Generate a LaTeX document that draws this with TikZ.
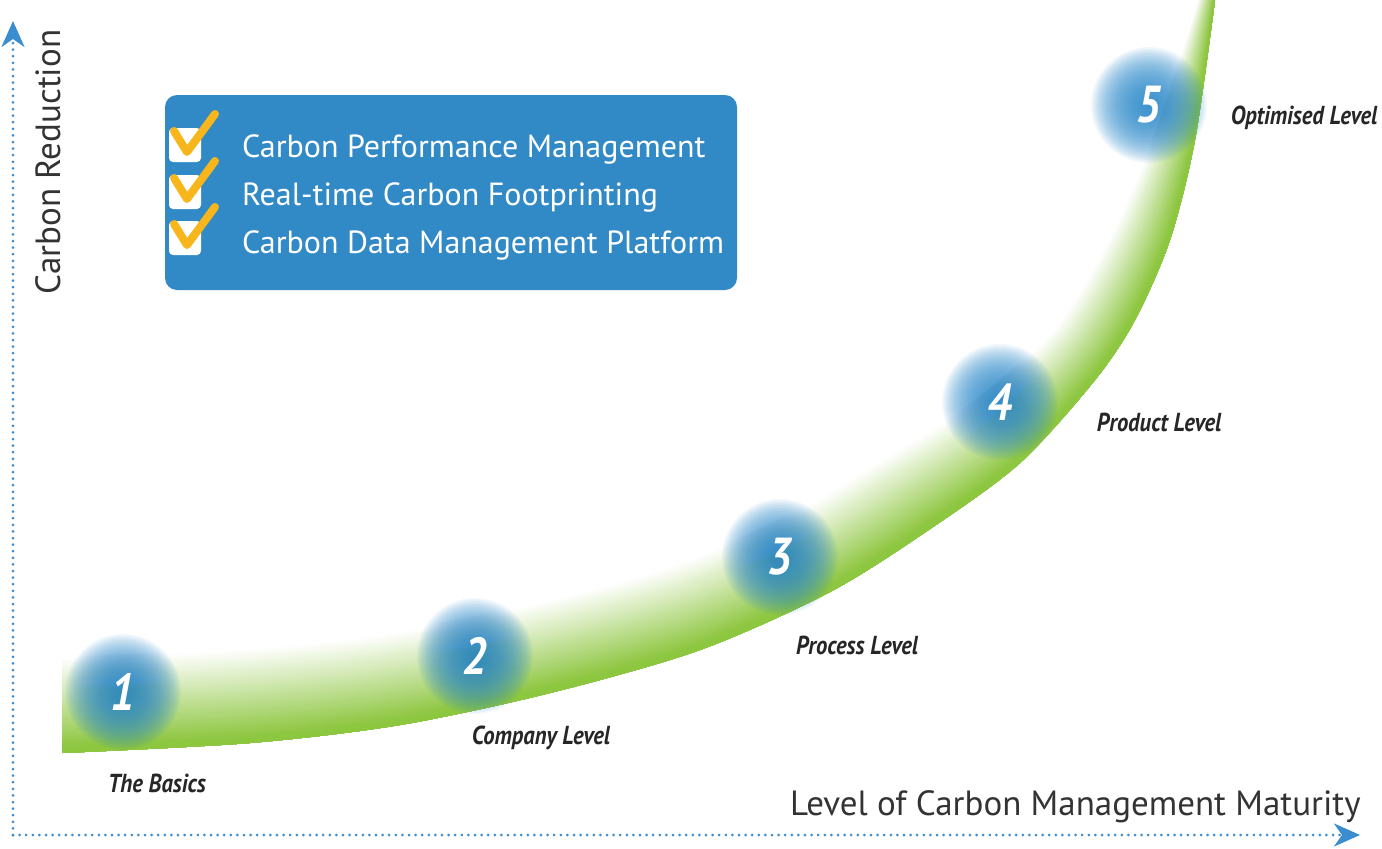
\documentclass[tikz,border=0pt]{standalone}
\usepackage{fontspec}
\setmainfont{PT Sans}
\newfontfamily\condfont[FakeStretch=0.87]{PT Sans}
\usetikzlibrary{arrows.meta,calc}
\definecolor{bandgreen}{HTML}{8DC63F}
\definecolor{ballblue}{HTML}{2A88C8}
\definecolor{panelblue}{HTML}{318AC6}
\definecolor{tickyellow}{HTML}{F7B61B}
\definecolor{axisblue}{HTML}{3A8ED0}
\definecolor{labelgray}{HTML}{333333}
\tikzset{
  axis/.style={axisblue, line width=3, line cap=round, dash pattern=on 0pt off 6.6pt, -{Stealth[length=26, width=23, inset=8]}},
  glow/.style={ballblue, fill opacity=0.06},
  ball/.style={circle, minimum size=114, text=white, font=\condfont\bfseries\itshape\fontsize{52}{52}\selectfont},
  lvl/.style={text=black!85, font=\condfont\bfseries\itshape\fontsize{26}{28}\selectfont},
  item/.style={anchor=base west, inner sep=0, text=white, font=\fontsize{32}{36}\selectfont},
  tickbox/.style={fill=white, rounded corners=4, minimum width=32, minimum height=34},
  tick/.style={tickyellow, line width=8, line cap=round, line join=round},
  axislabel/.style={text=labelgray, inner sep=0, font=\fontsize{35}{40}\selectfont}
}
\begin{document}
\begin{tikzpicture}[x=1pt, y=-1pt]
\useasboundingbox (0,0) rectangle (1382,849);

\foreach \i/\lx/\ly/\ux/\uy in {1/62/753/62/657, 2/250/743/242/648, 3/400/725/384/633, 4/550/693/528/604,
    5/700/650/669/566, 6/830/592/788/515, 7/930/529/881/459, 8/1020/463/967/406, 9/1095/380/1044/340,
    10/1135/320/1080/290, 11/1170/240/1118/220, 12/1195/140/1156/130, 13/1215/0/1198/0}{
  \coordinate (l\i) at (\lx,\ly);
  \coordinate (u\i) at (\ux,\uy);
}

\foreach \k in {40,39,...,1}{
  \pgfmathsetmacro\f{\k/40}
  \pgfmathtruncatemacro\pct{min(100,108*(1-\f))}
  \foreach \j in {1,...,13}
    \coordinate (m\j) at ($(l\j)!\f!(u\j)$);
  \fill[bandgreen!\pct!white] plot[smooth] coordinates {(l1) (l2) (l3) (l4) (l5) (l6) (l7) (l8) (l9) (l10) (l11) (l12) (l13)}
    -- plot[smooth] coordinates {(m13) (m12) (m11) (m10) (m9) (m8) (m7) (m6) (m5) (m4) (m3) (m2) (m1)} -- cycle;
}

\coordinate (c1) at (123,692);
\coordinate (c2) at (475,656);
\coordinate (c3) at (780,557);
\coordinate (c4) at (1000,402);
\coordinate (c5) at (1149,105);
\foreach \c in {c1,c2,c3,c4,c5}
  \foreach \r in {58,56.5,...,2}
    \fill[glow] (\c) circle (\r);
\node[ball] (s1) at (c1) {1};
\node[ball] (s2) at (c2) {2};
\node[ball] (s3) at (c3) {3};
\node[ball] (s4) at (c4) {4};
\node[ball] (s5) at (c5) {5};

\node[lvl] (t1) at (157,783) {The Basics};
\node[lvl] (t2) at (541,738) {Company Level};
\node[lvl] (t3) at (857,645) {Process Level};
\node[lvl] (t4) at (1159,422) {Product Level};
\node[lvl] (t5) at (1304,118) {Optimised Level};

\fill[panelblue, rounded corners=12] (165,95) rectangle (737,290);
\node[tickbox] (b1) at (185,145) {};
\node[tickbox] (b2) at (185,192) {};
\node[tickbox] (b3) at (185,238) {};
\foreach \y in {0,47,93}
  \draw[tick] (174,131+\y) -- (187,152+\y) -- (215,114+\y);
\node[item] (i1) at (242,157) {Carbon Performance Management};
\node[item] (i2) at (242,205) {Real-time Carbon Footprinting};
\node[item] (i3) at (242,253) {Carbon Data Management Platform};

\coordinate (origin) at (13,835);
\coordinate (ytip) at (13,21);
\coordinate (xtip) at (1360,835);
\draw[axis] (origin) -- (ytip);
\draw[axis] (origin) -- (xtip);

\node[axislabel, rotate=90] (ylab) at (48,162) {Carbon Reduction};
\node[axislabel, anchor=base west] (xlab) at (790,815) {Level of Carbon Management Maturity};
\end{tikzpicture}
\end{document}
